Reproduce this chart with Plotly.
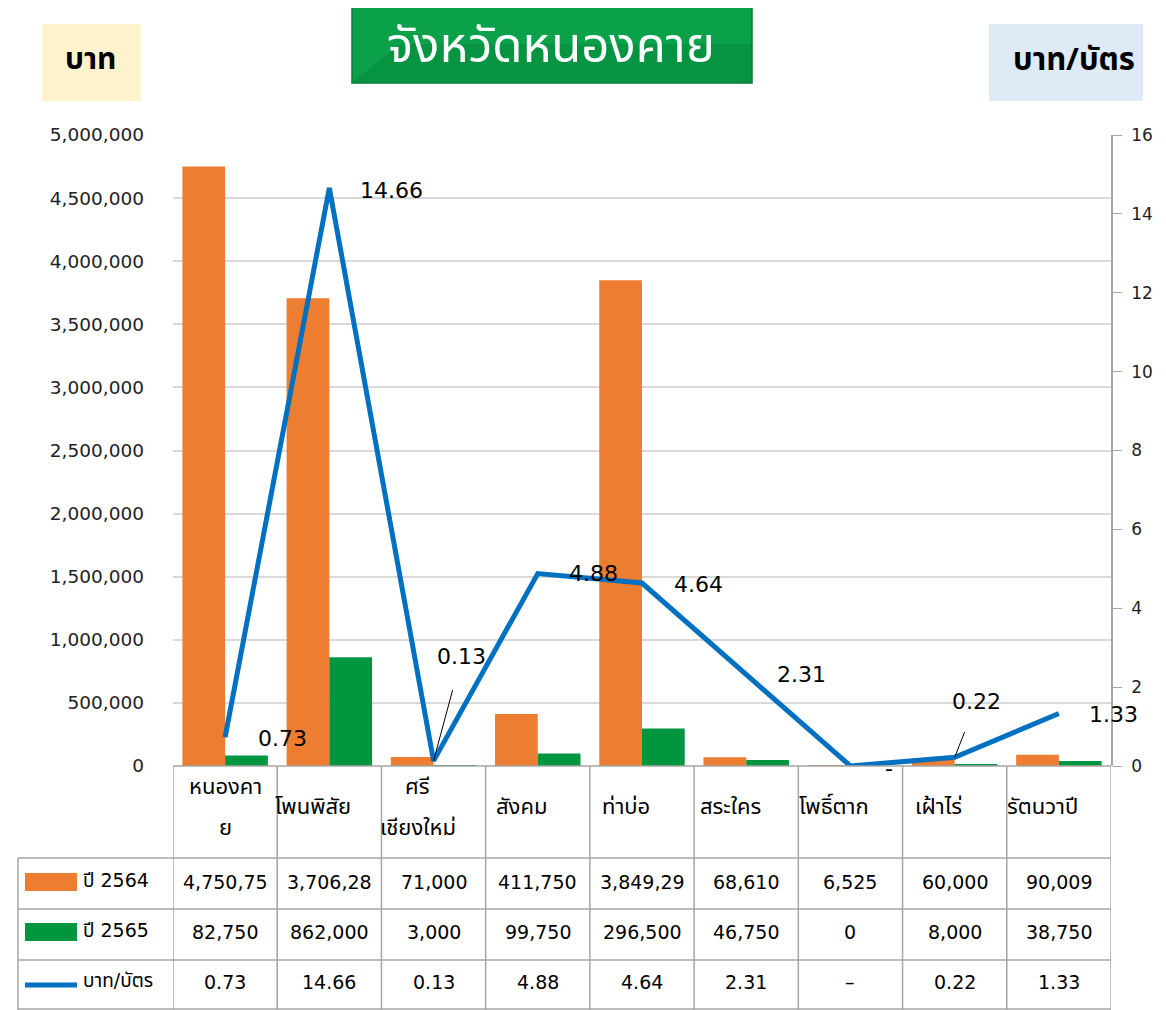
import plotly.graph_objects as go

# ---------------- data ----------------
categories = ["หนองคาย", "โพนพิสัย", "ศรีเชียงใหม่", "สังคม", "ท่าบ่อ", "สระใคร", "โพธิ์ตาก", "เฝ้าไร่", "รัตนวาปี"]
header_labels = ["หนองคา\nย", "โพนพิสัย", "ศรี\nเชียงใหม่", "สังคม", "ท่าบ่อ", "สระใคร", "โพธิ์ตาก", "เฝ้าไร่", "รัตนวาปี"]
y2564 = [4750750, 3706280, 71000, 411750, 3849290, 68610, 6525, 60000, 90009]
y2565 = [82750, 862000, 3000, 99750, 296500, 46750, 0, 8000, 38750]
rate = [0.73, 14.66, 0.13, 4.88, 4.64, 2.31, 0, 0.22, 1.33]
series_names = ["ปี 2564", "ปี 2565", "บาท/บัตร"]
left_ticks = [0, 500000, 1000000, 1500000, 2000000, 2500000, 3000000, 3500000, 4000000, 4500000, 5000000]
right_ticks = [0, 2, 4, 6, 8, 10, 12, 14, 16]

# ---------------- style ----------------
ORANGE = "#ED7D31"
GREEN = "#00963F"
BLUE = "#0070C0"
GRID = "#D9D9D9"
BORDER = "#A6A6A6"
FONT = "DejaVu Sans, Noto Sans Thai, Noto Sans, sans-serif"
TFONT = "Noto Sans Thai, DejaVu Sans, Noto Sans, sans-serif"

OFF = 8  # page body margin
W, H = 1166 - OFF, 1010 - OFF
L, R, T, B = 173, 1111, 135, 766  # plot area in reference pixels
PW, PH = R - L, B - T


def px(x):
    return (x - L) / PW


def py(y):
    return (B - y) / PH


idx = list(range(len(categories)))

fig = go.Figure()
fig.add_trace(go.Bar(x=idx, y=y2564, name=series_names[0], marker=dict(color=ORANGE, line=dict(width=0))))
fig.add_trace(go.Bar(x=idx, y=y2565, name=series_names[1], marker=dict(color=GREEN, line=dict(width=0))))
fig.add_trace(go.Scatter(x=idx, y=rate, name=series_names[2], yaxis="y2", mode="lines",
                         line=dict(color=BLUE, width=5)))

shapes = []
annotations = []

# data labels on the line
label_shift = [(57, -1), (62, -3), None, (56, 0), (56, -1), (55, 0), (39, -2), None, (55, -1)]
for i, v in enumerate(rate):
    txt = f"{v:.2f}" if v else "-"
    if label_shift[i] is not None:
        dx, dy = label_shift[i]
        annotations.append(dict(x=i, y=v, xref="x", yref="y2", text=txt, showarrow=False,
                                xanchor="center", yanchor="middle",
                                xshift=dx, yshift=dy, font=dict(size=22, color="black", family=FONT)))
# labels with leader lines
for i, (ax, ay, st) in {2: (28, -104, 20), 7: (22, -56, 18)}.items():
    annotations.append(dict(x=i, y=rate[i], xref="x", yref="y2", text=f"{rate[i]:.2f}", showarrow=True,
                            ax=ax, ay=ay, arrowhead=0, arrowwidth=1, arrowcolor="black",
                            startstandoff=st, font=dict(size=22, color="black", family=FONT)))

# ---------------- table ----------------
row_lines = [766, 858, 909, 960, 1009]
for k, yl in enumerate(row_lines):
    x0 = px(L) if k == 0 else px(18)
    shapes.append(dict(type="line", xref="paper", yref="paper", x0=x0, x1=1, y0=py(yl), y1=py(yl),
                       line=dict(color=BORDER, width=1.5), layer="above"))
for i in range(len(categories) + 1):
    shapes.append(dict(type="line", xref="x", yref="paper", x0=i - 0.5, x1=i - 0.5,
                       y0=py(766), y1=py(1012), line=dict(color=BORDER, width=1.5), layer="above"))
shapes.append(dict(type="line", xref="paper", yref="paper", x0=px(18), x1=px(18),
                   y0=py(858), y1=py(1012), line=dict(color=BORDER, width=1.5), layer="above"))

# header labels
for i, lab in enumerate(header_labels):
    lines = lab.split("\n")
    xs = 0 if i == 0 else -16
    n = len(lines)
    for j, ln in enumerate(lines):
        yc = 808 + (j - (n - 1) / 2) * 40
        annotations.append(dict(x=i, y=py(yc), xref="x", yref="paper", text=ln, showarrow=False,
                                xshift=xs, xanchor="center", yanchor="middle",
                                font=dict(size=22, color="black", family=TFONT)))

row_y = [882, 932, 982]
row_text = [
    [f"{v:,}"[:8] for v in y2564],
    [f"{v:,}" for v in y2565],
    [f"{v:.2f}" if v else "–" for v in rate],
]
for r, texts in enumerate(row_text):
    for i, t in enumerate(texts):
        annotations.append(dict(x=i, y=py(row_y[r]), xref="x", yref="paper", text=t, showarrow=False,
                                xanchor="center", yanchor="middle",
                                font=dict(size=19, color="black", family=FONT)))
    annotations.append(dict(x=px(81), y=py(row_y[r] - 2), xref="paper", yref="paper", text=series_names[r],
                            showarrow=False, xanchor="left", yanchor="middle",
                            font=dict(size=19, color="black", family=FONT)))

# legend keys in the table
shapes.append(dict(type="rect", xref="paper", yref="paper", x0=px(25), x1=px(77), y0=py(891), y1=py(873),
                   fillcolor=ORANGE, line=dict(width=0), layer="above"))
shapes.append(dict(type="rect", xref="paper", yref="paper", x0=px(25), x1=px(77), y0=py(941), y1=py(923),
                   fillcolor=GREEN, line=dict(width=0), layer="above"))
shapes.append(dict(type="line", xref="paper", yref="paper", x0=px(25), x1=px(77), y0=py(985), y1=py(985),
                   line=dict(color=BLUE, width=5), layer="above"))

# ---------------- title and unit boxes ----------------
shapes.append(dict(type="rect", xref="paper", yref="paper", x0=px(352), x1=px(752), y0=py(83), y1=py(-4),
                   fillcolor="#0AA14A", line=dict(color="#077A37", width=1.5), layer="above"))
shapes.append(dict(type="path", xref="paper", yref="paper",
                   path=f"M {px(353)},{py(82)} L {px(400)},{py(44)} L {px(751)},{py(44)} L {px(751)},{py(82)} Z",
                   fillcolor="#079442", line=dict(width=0), layer="above"))
annotations.append(dict(x=px(551), y=py(9), xref="paper", yref="paper", text="จังหวัดหนองคาย",
                        showarrow=False, xanchor="center", yanchor="top", borderpad=0,
                        font=dict(size=49, color="white", family=TFONT)))

shapes.append(dict(type="rect", xref="paper", yref="paper", x0=px(42), x1=px(141), y0=py(101), y1=py(24),
                   fillcolor="#FFF2CC", line=dict(width=0), layer="above"))
annotations.append(dict(x=px(90), y=py(60), xref="paper", yref="paper", text="<b>บาท</b>", showarrow=False,
                        xanchor="center", yanchor="middle", font=dict(size=30, color="black", family=TFONT)))
shapes.append(dict(type="rect", xref="paper", yref="paper", x0=px(989), x1=px(1143), y0=py(101), y1=py(24),
                   fillcolor="#DEEAF6", line=dict(width=0), layer="above"))
annotations.append(dict(x=px(1074), y=py(60), xref="paper", yref="paper", text="<b>บาท/บัตร</b>",
                        showarrow=False, xanchor="center", yanchor="middle",
                        font=dict(size=31, color="black", family=TFONT)))

fig.update_layout(
    width=W, height=H,
    margin=dict(l=L - OFF, r=W - (R - OFF), t=T - OFF, b=H - (B - OFF), pad=0),
    paper_bgcolor="white", plot_bgcolor="white",
    barmode="group", bargap=0.18, bargroupgap=0,
    showlegend=False,
    font=dict(family=FONT, color="#222222"),
    xaxis=dict(range=[-0.5, len(categories) - 0.5], showticklabels=False, showgrid=False,
               zeroline=False, showline=False, ticks=""),
    yaxis=dict(range=[0, 5000000], tickvals=left_ticks, tickformat=",d", showgrid=True, gridcolor=GRID,
               gridwidth=1.5, zeroline=False, showline=False, ticks="", ticklabelstandoff=28,
               tickfont=dict(size=18.5, color="#222222")),
    yaxis2=dict(range=[0, 16], tickvals=right_ticks, overlaying="y", side="right", showgrid=False,
                zeroline=False, showline=True, linecolor=BORDER, linewidth=1.5, ticks="outside",
                ticklen=9, tickcolor=BORDER, ticklabelstandoff=6,
                tickfont=dict(size=17, color="#222222")),
    shapes=shapes,
    annotations=annotations,
)

fig.write_html("out.html")
